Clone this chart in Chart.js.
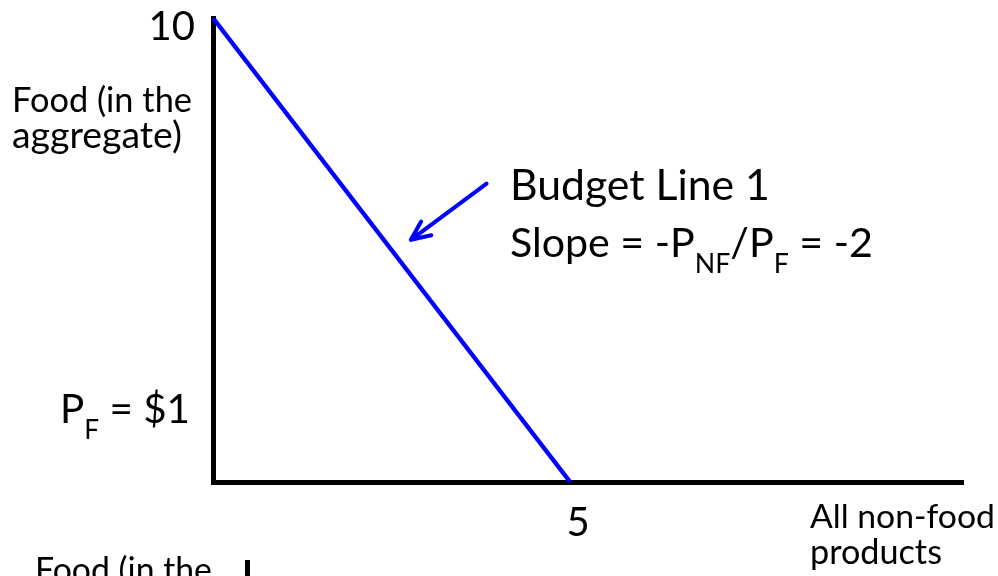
<!DOCTYPE html>
<html>
<head>
<meta charset="utf-8">
<script src="https://cdn.jsdelivr.net/npm/chart.js@4.4.1/dist/chart.umd.min.js"></script>
<style>
  html, body { margin: 0; padding: 0; background: #fff; }
  #wrap { width: 998px; height: 576px; }
</style>
</head>
<body>
<div id="wrap"><canvas id="budget" width="998" height="576"></canvas></div>
<script>
// budget line: all food (10) or all non-food (5)
const nonFood = [0, 5];
const food = [10, 0];
const xTicks = [5];
const yTicks = [10];
const xMax = 10.5;
const yMax = 10;

const FONT = 'Lato, "Open Sans", sans-serif';
const SUB = 0.65;

// annotation text, fitted to the width it takes in the slide
const notes = [
    { parts: [['Food (in the']], x: 12, y: 112, w: 180 },
    { parts: [['aggregate)']], x: 12, y: 148, w: 170 },
    { parts: [['Budget Line 1']], x: 510, y: 200, w: 260 },
    { parts: [['Slope = -P'], ['NF', 1], ['/P'], ['F', 1], [' = -2']], x: 510, y: 257, w: 363 },
    { parts: [['P'], ['F', 1], [' = $1']], x: 60, y: 423, w: 130 },
    { parts: [['All non-food']], x: 810, y: 528, w: 185 },
    { parts: [['products']], x: 810, y: 564, w: 132 },
    { parts: [['Food (in the']], x: 35, y: 582, w: 177 }
];
const arrowFrom = { x: 3.83, y: 6.43 };
const arrowTo = { x: 2.77, y: 5.22 };

function drawRich(ctx, note) {
    const base = 100;
    let w = 0;
    note.parts.forEach(p => {
        ctx.font = (p[1] ? base * SUB : base) + 'px ' + FONT;
        w += ctx.measureText(p[0]).width;
    });
    const size = base * note.w / w;
    let x = note.x;
    note.parts.forEach(p => {
        const s = p[1] ? size * SUB : size;
        ctx.font = s + 'px ' + FONT;
        ctx.fillText(p[0], x, note.y + (p[1] ? size * 0.4 : 0));
        x += ctx.measureText(p[0]).width;
    });
}

const notesPlugin = {
    id: 'notes',
    afterDraw(chart) {
        const ctx = chart.ctx;
        const xs = chart.scales.x, ys = chart.scales.y;
        ctx.save();
        ctx.fillStyle = '#000';
        ctx.textBaseline = 'alphabetic';
        ctx.textAlign = 'left';
        notes.forEach(n => drawRich(ctx, n));

        // top of the next diagram, cut off by the slide edge
        ctx.fillRect(245, 560, 5, 16);

        // arrow pointing at the budget line
        const x1 = xs.getPixelForValue(arrowFrom.x), y1 = ys.getPixelForValue(arrowFrom.y);
        const x2 = xs.getPixelForValue(arrowTo.x), y2 = ys.getPixelForValue(arrowTo.y);
        const a = Math.atan2(y2 - y1, x2 - x1);
        ctx.strokeStyle = '#0000ff';
        ctx.lineWidth = 4;
        ctx.lineCap = 'round';
        ctx.lineJoin = 'round';
        ctx.beginPath();
        ctx.moveTo(x1, y1);
        ctx.lineTo(x2, y2);
        ctx.moveTo(x2 - 21 * Math.cos(a - 0.42), y2 - 21 * Math.sin(a - 0.42));
        ctx.lineTo(x2, y2);
        ctx.lineTo(x2 - 21 * Math.cos(a + 0.42), y2 - 21 * Math.sin(a + 0.42));
        ctx.stroke();
        ctx.restore();
    }
};

new Chart(document.getElementById('budget'), {
    type: 'line',
    data: {
        datasets: [{
            label: 'Budget Line 1',
            data: nonFood.map((v, i) => ({ x: v, y: food[i] })),
            borderColor: '#0000ff',
            borderWidth: 4.5,
            pointRadius: 0,
            tension: 0,
            clip: false
        }]
    },
    options: {
        responsive: false,
        animation: false,
        layout: { padding: { top: 18, right: 35, left: 0, bottom: 0 } },
        plugins: { legend: { display: false }, tooltip: { enabled: false } },
        scales: {
            x: {
                type: 'linear',
                min: 0,
                max: xMax,
                grid: { display: false, drawTicks: false },
                border: { display: true, color: '#000', width: 5 },
                ticks: { color: '#000', font: { family: FONT, size: 40 }, padding: 17, labelOffset: 8 },
                afterBuildTicks: s => { s.ticks = xTicks.map(v => ({ value: v })); },
                afterFit: s => { s.height = 94; s.paddingLeft = 0; s.paddingRight = 0; }
            },
            y: {
                type: 'linear',
                min: 0,
                max: yMax,
                grid: { display: false, drawTicks: false },
                border: { display: true, color: '#000', width: 5 },
                ticks: { color: '#000', font: { family: FONT, size: 40 }, padding: 18, labelOffset: 9 },
                afterBuildTicks: s => { s.ticks = yTicks.map(v => ({ value: v })); },
                afterFit: s => { s.width = 213; s.paddingTop = 0; s.paddingBottom = 0; }
            }
        }
    },
    plugins: [notesPlugin]
});
</script>
</body>
</html>
